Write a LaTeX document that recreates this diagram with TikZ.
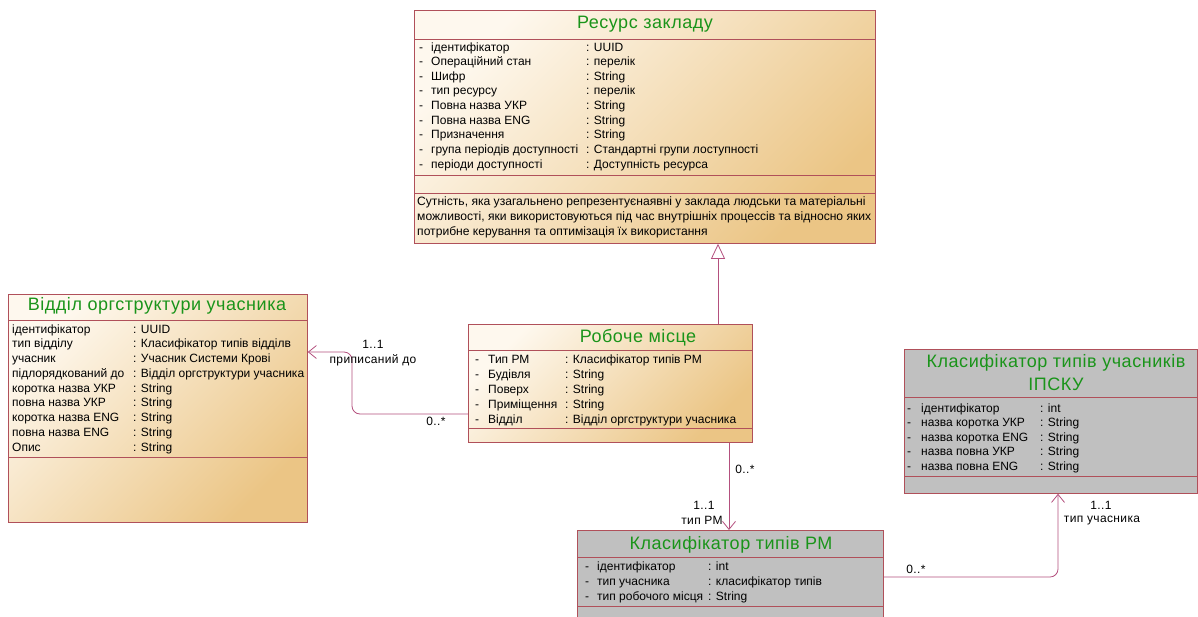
\documentclass[tikz,border=0pt]{standalone}
\usepackage{fontspec}
\setmainfont{Liberation Sans}
\newfontfamily\titlefont[LetterSpace=3]{Liberation Sans}
\newfontfamily\lblfont[LetterSpace=3]{Liberation Sans}
\usetikzlibrary{arrows.meta}
\definecolor{boxborder}{HTML}{B0505A}
\definecolor{titlegreen}{HTML}{1A941A}
\definecolor{conn}{HTML}{B4507E}
\definecolor{boxlight}{HTML}{FEF8EE}
\definecolor{boxdark}{HTML}{EBC585}
\definecolor{greyfill}{HTML}{C0C0C0}
\begin{document}
\begin{tikzpicture}[x=1pt,y=-1pt,
  classbox/.style={draw=boxborder, line width=0.8pt, inner sep=0pt, anchor=north west,
     top color=boxlight, bottom color=boxdark, shading angle=45},
  greybox/.style={draw=boxborder, line width=0.8pt, inner sep=0pt, anchor=north west, fill=greyfill},
  sepline/.style={draw=boxborder, line width=0.8pt},
  titletext/.style={text=titlegreen, font=\titlefont\fontsize{18}{21}\selectfont, inner sep=0pt},
  attr/.style={anchor=base west, inner sep=0pt, font=\fontsize{12}{14}\selectfont},
  desc/.style={anchor=base west, inner sep=0pt, font=\fontsize{12.1}{14}\selectfont},
  lbl/.style={inner sep=0pt, font=\lblfont\fontsize{12}{14}\selectfont},
  assoc/.style={draw=conn, line width=0.8pt, -{Straight Barb[length=8pt,width=13pt]}},
  inherit/.style={draw=conn, line width=0.8pt, -{Triangle[open,length=15pt,width=14pt,fill=white]}}
]
\clip (0,0) rectangle (1198,616);
\fill[white] (0,0) rectangle (1198,616);

% ---------- Ресурс закладу ----------
\node[classbox, minimum width=461pt, minimum height=233pt] (res) at (414,10) {};
\draw[sepline] (414,39) -- (875,39);
\draw[sepline] (414,175) -- (875,175);
\draw[sepline] (414,193) -- (875,193);
\node[titletext] (restitle) at (645,24) {Ресурс закладу};
\foreach \n/\t [count=\i from 0] in {ідентифікатор/UUID, Операційний стан/перелік, Шифр/String,
   тип ресурсу/перелік, Повна назва УКР/String, Повна назва ENG/String, Призначення/String,
   група періодів доступності/Стандартні групи лоступності, періоди доступності/Доступність ресурса}{
  \node[attr] (resd\i) at (419,51+\i*14.65) {-};
  \node[attr] (resn\i) at (431,51+\i*14.65) {\n};
  \node[attr] (rest\i) at (586,51+\i*14.65) {: \t};
}
\node[desc] (resdesc1) at (417,205) {Сутність, яка узагальнено репрезентуєнаявні у заклада людськи та матеріальні};
\node[desc] (resdesc2) at (417,220) {можливості, яки використовуються під час внутрішніх процессів та відносно яких};
\node[desc] (resdesc3) at (417,235) {потрибне керування та оптимізація їх використання};

% ---------- Відділ оргструктури учасника ----------
\node[classbox, minimum width=299pt, minimum height=228pt] (vid) at (8,294) {};
\draw[sepline] (8,320) -- (307,320);
\draw[sepline] (8,457) -- (307,457);
\node[titletext] (vidtitle) at (157,306) {Відділ оргструктури учасника};
\foreach \n/\t [count=\i from 0] in {ідентифікатор/UUID, тип відділу/Класифікатор типів відділв,
   учасник/Учасник Системи Крові, підлорядкований до/Відділ оргструктури учасника,
   коротка назва УКР/String, повна назва УКР/String, коротка назва ENG/String,
   повна назва ENG/String, Опис/String}{
  \node[attr] (vidn\i) at (12,333+\i*14.75) {\n};
  \node[attr] (vidt\i) at (133,333+\i*14.75) {: \t};
}

% ---------- Робоче місце ----------
\node[classbox, minimum width=284pt, minimum height=118pt] (rm) at (468,324) {};
\draw[sepline] (468,350) -- (752,350);
\draw[sepline] (468,428) -- (752,428);
\node[titletext] (rmtitle) at (638,338) {Робоче місце};
\foreach \n/\t [count=\i from 0] in {Тип РМ/Класифікатор типів РМ, Будівля/String, Поверх/String,
   Приміщення/String, Відділ/Відділ оргструктури учасника}{
  \node[attr] (rmd\i) at (475,363+\i*15) {-};
  \node[attr] (rmn\i) at (488,363+\i*15) {\n};
  \node[attr] (rmt\i) at (565,363+\i*15) {: \t};
}

% ---------- Класифікатор типів учасників ІПСКУ ----------
\node[greybox, minimum width=293pt, minimum height=144pt] (kuc) at (904,349) {};
\draw[sepline] (904,397) -- (1197,397);
\draw[sepline] (904,476) -- (1197,476);
\node[titletext] (kuctitle1) at (1056,363) {Класифікатор типів учасників};
\node[titletext] (kuctitle2) at (1056,384) {ІПСКУ};
\foreach \n/\t [count=\i from 0] in {ідентифікатор/int, назва коротка УКР/String,
   назва коротка ENG/String, назва повна УКР/String, назва повна ENG/String}{
  \node[attr] (kucd\i) at (907,412+\i*14.5) {-};
  \node[attr] (kucn\i) at (921,412+\i*14.5) {\n};
  \node[attr] (kuct\i) at (1040,412+\i*14.5) {: \t};
}

% ---------- Класифікатор типів РМ ----------
\node[greybox, minimum width=306pt, minimum height=100pt] (krm) at (577,530) {};
\draw[sepline] (577,557) -- (883,557);
\draw[sepline] (577,606) -- (883,606);
\node[titletext] (krmtitle) at (731,545) {Класифікатор типів РМ};
\foreach \n/\t [count=\i from 0] in {ідентифікатор/int, тип учасника/класифікатор типів,
   тип робочого місця/String}{
  \node[attr] (krmd\i) at (585,570+\i*15) {-};
  \node[attr] (krmn\i) at (597,570+\i*15) {\n};
  \node[attr] (krmt\i) at (708,570+\i*15) {: \t};
}

% ---------- connectors ----------
\coordinate (xinh) at (718,0);
\draw[inherit] (rm.north -| xinh) -- (res.south -| xinh);

\coordinate (c1) at (352,414);
\coordinate (c2) at (352,352);
\draw[assoc, rounded corners=8pt] (rm.west |- c1) -- (c1) -- (c2) -- (vid.east |- c2);
\node[lbl] (l1a) at (373,344) {1..1};
\node[lbl] (l1b) at (373,360) {приписаний до};
\node[lbl] (l1c) at (436,421) {0..*};

\coordinate (xrm) at (729,0);
\draw[assoc] (rm.south -| xrm) -- (krm.north -| xrm);
\node[lbl] (l2a) at (745,469) {0..*};
\node[lbl] (l2b) at (704,505) {1..1};
\node[lbl] (l2c) at (702,520) {тип РМ};

\coordinate (c3) at (1058,577);
\draw[assoc, rounded corners=8pt] (krm.east |- c3) -- (c3) -- (kuc.south -| c3);
\node[lbl] (l3a) at (916,569) {0..*};
\node[lbl] (l3b) at (1101,505) {1..1};
\node[lbl] (l3c) at (1102,521) {тип учасника};
\end{tikzpicture}
\end{document}
